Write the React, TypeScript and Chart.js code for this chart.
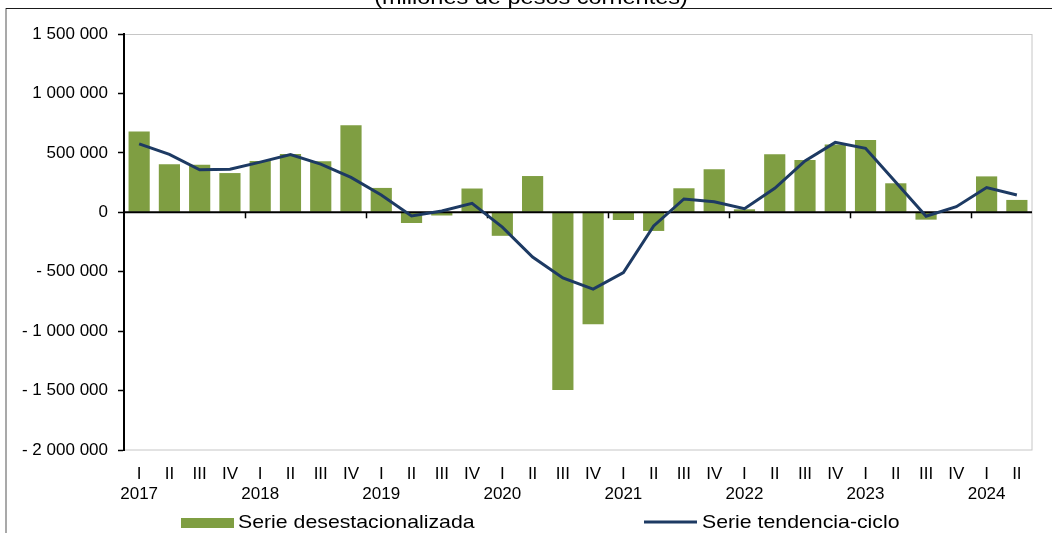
import React, { useEffect, useRef } from 'react';
import { Chart, registerables } from 'chart.js';

Chart.register(...registerables);

// ---- Data ----
const quarterLabels = [
  'I', 'II', 'III', 'IV',
  'I', 'II', 'III', 'IV',
  'I', 'II', 'III', 'IV',
  'I', 'II', 'III', 'IV',
  'I', 'II', 'III', 'IV',
  'I', 'II', 'III', 'IV',
  'I', 'II', 'III', 'IV',
  'I', 'II',
];

const yearLabels = [
  '2017', '', '', '',
  '2018', '', '', '',
  '2019', '', '', '',
  '2020', '', '', '',
  '2021', '', '', '',
  '2022', '', '', '',
  '2023', '', '', '',
  '2024', '',
];

// Serie desestacionalizada (millones de pesos corrientes)
const seasonallyAdjusted = [
  680000, 405000, 400000, 330000,
  432000, 490000, 430000, 732000,
  205000, -90000, -27000, 200000,
  -198000, 305000, -1495000, -942000,
  -65000, -157000, 202000, 362000,
  25000, 488000, 440000, 570000,
  608000, 244000, -62000, 5000,
  302000, 104000,
];

// Serie tendencia-ciclo
const trendCycle = [
  576000, 487000, 357000, 362000,
  422000, 485000, 405000, 294000,
  146000, -31000, 11000, 75000,
  -125000, -376000, -553000, -646000,
  -508000, -115000, 112000, 89000,
  30000, 202000, 432000, 588000,
  538000, 252000, -33000, 47000,
  208000, 146000,
];

const yMin = -2000000;
const yMax = 1500000;
const yStep = 500000;

const titleText = '(millones de pesos corrientes)';
const barLegend = 'Serie desestacionalizada';
const lineLegend = 'Serie tendencia-ciclo';

// ---- Styles ----
const GREEN = '#7f9e42';
const NAVY = '#1d3a63';
const FONT = '"Liberation Sans", Arial, Helvetica, sans-serif';

function formatTick(v: number): string {
  const abs = Math.abs(v);
  const s = String(abs).replace(/\B(?=(\d{3})+(?!\d))/g, ' ');
  return v < 0 ? '- ' + s : s;
}

function drawStretchedText(ctx: CanvasRenderingContext2D, text: string, x: number, y: number, sx: number, align: CanvasTextAlign) {
  ctx.save();
  ctx.translate(x, y);
  ctx.scale(sx, 1);
  ctx.textAlign = align;
  ctx.textBaseline = 'alphabetic';
  ctx.fillText(text, 0, 0);
  ctx.restore();
}

const decorPlugin = {
  id: 'decor',
  beforeDraw(chart: any) {
    const { ctx, chartArea: a } = chart;
    ctx.save();
    // outer frame
    ctx.strokeStyle = '#8c8c8c';
    ctx.lineWidth = 1.5;
    ctx.beginPath();
    ctx.moveTo(6, 8);
    ctx.lineTo(6, 533);
    ctx.stroke();
    ctx.strokeStyle = '#1a1a1a';
    ctx.lineWidth = 1.2;
    ctx.beginPath();
    ctx.moveTo(6, 8.5);
    ctx.lineTo(1052, 8.5);
    ctx.stroke();
    // plot area border
    ctx.strokeStyle = '#c6c6c6';
    ctx.lineWidth = 1;
    ctx.strokeRect(a.left, a.top + 0.5, a.right - a.left, a.bottom - a.top - 0.5);
    ctx.restore();
  },
  beforeDatasetDraw(chart: any, args: any) {
    if (args.index !== 0) return;
    const { ctx, chartArea: a, scales } = chart;
    const y0 = scales.y.getPixelForValue(0);
    const xs = scales.x;
    ctx.save();
    ctx.strokeStyle = '#000';
    ctx.lineWidth = 2;
    ctx.beginPath();
    ctx.moveTo(a.left, y0);
    ctx.lineTo(a.right, y0);
    ctx.stroke();
    const half = (xs.getPixelForValue(1) - xs.getPixelForValue(0)) / 2;
    ctx.lineWidth = 1.5;
    for (let i = 4; i < quarterLabels.length; i += 4) {
      const x = Math.round(xs.getPixelForValue(i) - half) + 0.5;
      ctx.beginPath();
      ctx.moveTo(x, y0);
      ctx.lineTo(x, y0 + 6);
      ctx.stroke();
    }
    ctx.restore();
  },
  afterDraw(chart: any) {
    const { ctx } = chart;
    ctx.save();
    ctx.fillStyle = '#000';
    // title (cut off at top)
    ctx.font = `21px ${FONT}`;
    drawStretchedText(ctx, titleText, 531, 3.5, 1.12, 'center');
    // legend
    ctx.fillStyle = GREEN;
    ctx.fillRect(181, 518, 53, 10);
    ctx.strokeStyle = NAVY;
    ctx.lineWidth = 3;
    ctx.beginPath();
    ctx.moveTo(644, 522);
    ctx.lineTo(697, 522);
    ctx.stroke();
    ctx.fillStyle = '#000';
    ctx.font = `19px ${FONT}`;
    drawStretchedText(ctx, barLegend, 238, 527.5, 1.12, 'left');
    drawStretchedText(ctx, lineLegend, 702, 527.5, 1.12, 'left');
    ctx.restore();
  },
};

export default function App() {
  const canvasRef = useRef<HTMLCanvasElement | null>(null);

  useEffect(() => {
    const canvas = canvasRef.current;
    if (!canvas) return;
    const labels = quarterLabels.map((q, i) => (yearLabels[i] ? [q, yearLabels[i]] : q));
    const chart = new Chart(canvas, {
      type: 'bar',
      data: {
        labels,
        datasets: [
          {
            type: 'line',
            label: lineLegend,
            data: trendCycle,
            borderColor: NAVY,
            backgroundColor: NAVY,
            borderWidth: 3,
            pointRadius: 0,
            tension: 0,
            order: 0,
          } as any,
          {
            type: 'bar',
            label: barLegend,
            data: seasonallyAdjusted,
            backgroundColor: GREEN,
            borderWidth: 0,
            barPercentage: 0.7,
            categoryPercentage: 1,
            order: 1,
          } as any,
        ],
      },
      options: {
        animation: false,
        responsive: false,
        maintainAspectRatio: false,
        devicePixelRatio: 1,
        layout: { padding: { left: 0, right: 20, top: 34, bottom: 0 } },
        plugins: {
          legend: { display: false },
          title: { display: false },
          tooltip: { enabled: false },
        },
        scales: {
          x: {
            type: 'category',
            position: 'bottom',
            offset: true,
            grid: { display: false },
            border: { display: false },
            ticks: {
              autoSkip: false,
              maxRotation: 0,
              minRotation: 0,
              padding: 6,
              color: '#000',
              font: { family: FONT, size: 17, lineHeight: 1.18 },
            },
            afterFit: (scale: any) => {
              scale.height = 83;
            },
          },
          y: {
            min: yMin,
            max: yMax,
            position: 'left',
            grid: {
              drawOnChartArea: false,
              drawTicks: true,
              tickLength: 6,
              tickColor: '#000',
              tickWidth: 1.5,
            },
            border: { display: true, color: '#000', width: 2 },
            ticks: {
              stepSize: yStep,
              padding: 10,
              color: '#000',
              font: { family: FONT, size: 17 },
              callback: (v: any) => formatTick(Number(v)),
            },
            afterFit: (scale: any) => {
              scale.width = 124;
            },
          },
        },
      },
      plugins: [decorPlugin],
    });
    return () => chart.destroy();
  }, []);

  return (
    <div style={{ position: 'fixed', left: 0, top: 0, width: 1052, height: 533, background: '#fff' }}>
      <canvas ref={canvasRef} width={1052} height={533} style={{ display: 'block' }} />
    </div>
  );
}
